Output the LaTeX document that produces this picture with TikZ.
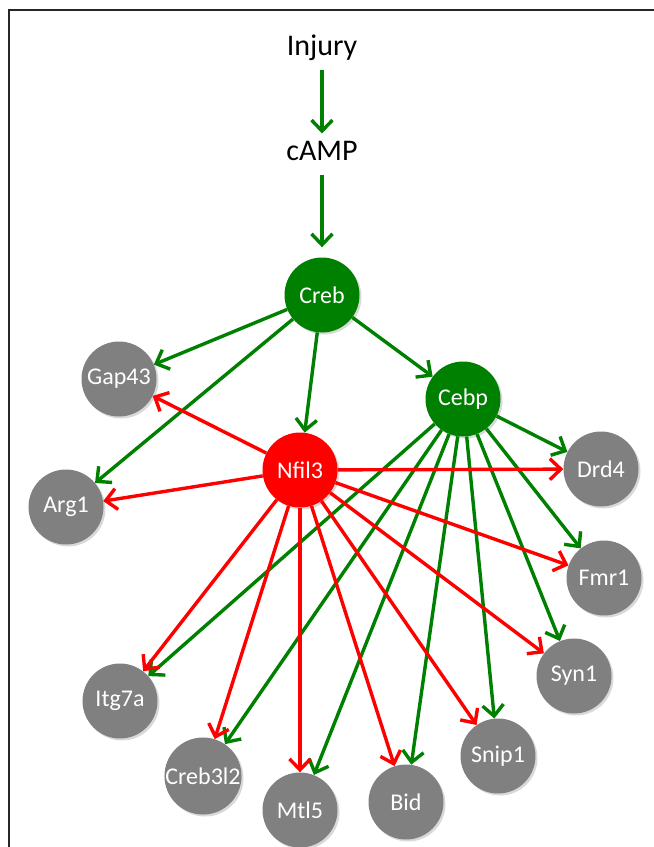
\documentclass[tikz,border=0pt]{standalone}
\usepackage{fontspec}
\setmainfont{Carlito}
\usetikzlibrary{arrows.meta,shadows}
\definecolor{netgreen}{RGB}{0,128,0}
\definecolor{netred}{RGB}{255,0,0}
\definecolor{netgray}{RGB}{128,128,128}

\begin{document}
\begin{tikzpicture}[
x=1pt, y=-1pt,
MyGenes/.style={circle, fill=netgray, minimum size=75pt, inner sep=0pt, text=white,
  font=\fontsize{24}{28}\selectfont,
  drop shadow={shadow xshift=2pt, shadow yshift=-2pt, opacity=0.3}},
MyHubs/.style={MyGenes, fill=netgreen},
MyRepressor/.style={MyGenes, fill=netred},
MyLabels/.style={text=black, font=\fontsize{30}{34}\selectfont, text height=19pt,
  text depth=6pt, inner sep=0pt, outer sep=8pt},
GreenArrows/.style={draw=netgreen, line width=3.4pt, -{Straight Barb[length=11pt, width=21pt]}},
RedArrows/.style={draw=netred, line width=3.4pt, -{Straight Barb[length=11pt, width=21pt]}}
]

\useasboundingbox (0,0) rectangle (654,847);
\draw[line width=1.5pt, black!85] (9,847) -- (9,10) -- (654,10);

% signal chain
\node[MyLabels] (injury) at (322,49) {Injury};
\node[MyLabels] (camp) at (322,154) {cAMP};

% transcription factors
\node[MyHubs] (creb) at (322,295) {Creb};
\node[MyHubs] (cebp) at (463,399) {Cebp};
\node[MyRepressor] (nfil3) at (300,470) {Nfil3};

% targets
\node[MyGenes] (gap43) at (119,379) {Gap43};
\node[MyGenes] (arg1) at (66,507) {Arg1};
\node[MyGenes] (drd4) at (601,469) {Drd4};
\node[MyGenes] (fmr1) at (604,578) {Fmr1};
\node[MyGenes] (syn1) at (574,676) {Syn1};
\node[MyGenes] (snip1) at (498,756) {Snip1};
\node[MyGenes] (bid) at (406,802) {Bid};
\node[MyGenes] (mtl5) at (300,810) {Mtl5};
\node[MyGenes] (creb3l2) at (203,776) {Creb3l2};
\node[MyGenes] (itg7a) at (120,701) {Itg7a};

\draw[GreenArrows] (injury) -- (camp);
\draw[GreenArrows, shorten >=10pt] (camp) -- (creb);

\draw[GreenArrows] (creb) -- (gap43);
\draw[GreenArrows] (creb) -- (arg1);
\draw[GreenArrows] (creb) -- (nfil3);
\draw[GreenArrows] (creb) -- (cebp);

\draw[GreenArrows] (cebp) -- (drd4);
\draw[GreenArrows] (cebp) -- (fmr1);
\draw[GreenArrows] (cebp) -- (syn1);
\draw[GreenArrows] (cebp) -- (snip1);
\draw[GreenArrows] (cebp) -- (bid);
\draw[GreenArrows] (cebp) -- (mtl5);
\draw[GreenArrows] (cebp) -- (creb3l2);
\draw[GreenArrows] (cebp) -- (itg7a);

\draw[RedArrows] (nfil3) -- (gap43);
\draw[RedArrows] (nfil3) -- (arg1);
\draw[RedArrows] (nfil3) -- (drd4);
\draw[RedArrows] (nfil3) -- (fmr1);
\draw[RedArrows] (nfil3) -- (syn1);
\draw[RedArrows] (nfil3) -- (snip1);
\draw[RedArrows] (nfil3) -- (bid);
\draw[RedArrows] (nfil3) -- (mtl5);
\draw[RedArrows] (nfil3) -- (creb3l2);
\draw[RedArrows] (nfil3) -- (itg7a);

\end{tikzpicture}
\end{document}
